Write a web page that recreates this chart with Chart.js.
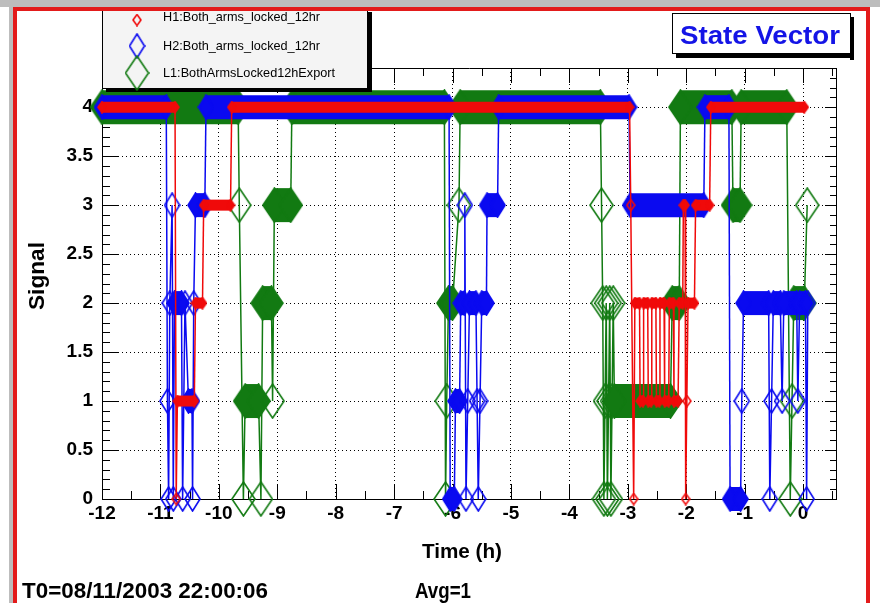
<!DOCTYPE html>
<html>
<head>
<meta charset="utf-8">
<script src="https://cdn.jsdelivr.net/npm/chart.js@4.4.0/dist/chart.umd.min.js"></script>
<style>
  html, body { margin: 0; padding: 0; background: #fff; }
  canvas { display: block; }
</style>
</head>
<body>
<canvas id="stateChart" width="880" height="603"></canvas>
<script>
// State vector samples: time in hours relative to T0, state 0..4
const h1Time  = [-12.0, -10.75, -10.73, -10.71, -10.42, -10.4, -10.28, -10.26, -9.8, -9.78,
                 -2.97, -2.95, -2.9, -2.88, -2.8, -2.79, -2.74, -2.73, -2.66, -2.65,
                 -2.6, -2.59, -2.52, -2.51, -2.46, -2.45, -2.38, -2.37, -2.3, -2.29,
                 -2.22, -2.21, -2.14, -2.12, -2.06, -2.05, -2.02, -2.01, -1.99, -1.97,
                 -1.86, -1.84, -1.6, -1.58, 0.02];
const h1State = [4, 4, 0, 1, 1, 2, 2, 3, 3, 4,
                 4, 3, 0, 2, 2, 1, 1, 2, 2, 1,
                 1, 2, 2, 1, 1, 2, 2, 1, 1, 2,
                 2, 1, 1, 2, 2, 3, 3, 0, 1, 2,
                 2, 3, 3, 4, 4];

const h2Time  = [-12.0, -10.9, -10.88, -10.86, -10.84, -10.8, -10.78, -10.76, -10.64, -10.62,
                 -10.58, -10.52, -10.46, -10.45, -10.43, -10.4, -10.24, -10.22,
                 -6.06, -6.04, -5.97, -5.95, -5.88, -5.86, -5.8, -5.79, -5.77, -5.74,
                 -5.71, -5.6, -5.58, -5.56, -5.53, -5.5, -5.42, -5.41, -5.23, -5.21,
                 -2.98, -2.96, -1.7, -1.68, -1.27, -1.25, -1.07, -1.05, -1.02, -0.59,
                 -0.57, -0.54, -0.51, -0.39, -0.36, -0.33, -0.11, -0.09, -0.06, 0.04,
                 0.06, 0.08];
const h2State = [4, 4, 1, 0, 2, 3, 0, 2, 2, 0,
                 2, 1, 1, 0, 2, 3, 3, 4,
                 4, 0, 0, 1, 1, 2, 2, 3, 0, 1,
                 2, 2, 1, 0, 1, 2, 2, 3, 3, 4,
                 4, 3, 3, 4, 4, 0, 0, 1, 2, 2,
                 0, 1, 2, 2, 1, 2, 2, 1, 2, 2,
                 0, 2];

const l1Time  = [-12.0, -9.67, -9.65, -9.58, -9.55, -9.32, -9.28, -9.25, -9.1, -9.08,
                 -9.05, -8.77, -8.75, -6.14, -6.12, -6.1, -6.07, -6.0, -5.89, -5.87,
                 -3.47, -3.45, -3.43, -3.41, -3.39, -3.37, -3.35, -3.33, -3.31, -3.29,
                 -3.27, -3.25, -3.23, -2.27, -2.24, -2.12, -2.1, -1.22, -1.2, -1.08,
                 -1.06, -0.28, -0.22, -0.19, -0.16, 0.02, 0.07];
const l1State = [4, 4, 3, 0, 1, 1, 0, 2, 2, 1,
                 3, 3, 4, 4, 0, 1, 2, 2, 3, 4,
                 4, 3, 2, 0, 1, 2, 0, 1, 2, 0,
                 1, 2, 1, 1, 2, 2, 4, 4, 3, 3,
                 4, 4, 0, 1, 2, 2, 3];

const seriesNames = ["H1:Both_arms_locked_12hr", "H2:Both_arms_locked_12hr", "L1:BothArmsLocked12hExport"];
const seriesColors = ["#f00a0a", "#0a0af0", "#127a12"];

const FONT = '"Liberation Sans", Arial, sans-serif';

// diamond marker drawn once to an offscreen canvas
function diamond(color, w, h, filled) {
    const c = document.createElement("canvas");
    c.width = w + 2;
    c.height = h + 2;
    const g = c.getContext("2d");
    g.beginPath();
    g.moveTo(c.width / 2, 1);
    g.lineTo(c.width - 1, c.height / 2);
    g.lineTo(c.width / 2, c.height - 1);
    g.lineTo(1, c.height / 2);
    g.closePath();
    if (filled) {
        g.fillStyle = color;
        g.fill();
    }
    g.strokeStyle = color;
    g.lineWidth = 1.6;
    g.stroke();
    return c;
}

const markerSize = [[8, 11], [15, 24], [23, 34]];
const hollow = seriesColors.map((c, i) => diamond(c, markerSize[i][0], markerSize[i][1], false));
const solid = seriesColors.map((c, i) => diamond(c, markerSize[i][0], markerSize[i][1], true));

function makeSeries(idx, times, states) {
    const held = (i) =>
        (i > 0 && states[i - 1] === states[i]) || (i < states.length - 1 && states[i + 1] === states[i]);
    return {
        label: seriesNames[idx],
        data: times.map((t, i) => ({ x: t, y: states[i] })),
        borderColor: seriesColors[idx],
        backgroundColor: seriesColors[idx],
        borderWidth: 1.5,
        borderCapStyle: "butt",
        tension: 0,
        clip: false,
        pointRadius: 4,
        pointStyle: (c) => (held(c.dataIndex) ? solid[idx] : hollow[idx]),
        segment: {
            borderWidth: (c) => (c.p0.parsed.y === c.p1.parsed.y ? markerSize[idx][1] : 1.5),
        },
    };
}

function fitText(ctx, text, x, y, font, w, align) {
    ctx.save();
    ctx.font = font;
    const k = w / ctx.measureText(text).width;
    ctx.translate(x, y);
    ctx.scale(k, 1);
    ctx.textAlign = align;
    ctx.textBaseline = "middle";
    ctx.fillText(text, 0, 0);
    ctx.restore();
}

const background = {
    id: "background",
    beforeDraw(chart) {
        const ctx = chart.ctx;
        ctx.save();
        ctx.fillStyle = "#fff";
        ctx.fillRect(0, 0, chart.width, chart.height);
        ctx.restore();
    },
};

// ROOT style frame: ticks point inward on all four sides
const frameTicks = {
    id: "frameTicks",
    beforeDatasetsDraw(chart) {
        const { ctx, chartArea: a, scales: { x, y } } = chart;
        ctx.save();
        ctx.strokeStyle = "#000";
        ctx.lineWidth = 1;
        ctx.beginPath();
        ctx.rect(a.left + 0.5, a.top + 0.5, a.right - a.left - 1, a.bottom - a.top);
        for (let i = 0; i <= 44; i++) {
            const py = Math.round(y.getPixelForValue(i / 10)) + 0.5;
            const major = i % 5 === 0;
            ctx.moveTo(a.left, py);
            ctx.lineTo(a.left + (major ? 16 : 8), py);
            ctx.moveTo(a.right, py);
            ctx.lineTo(a.right - (major ? 12 : 7), py);
        }
        for (let i = -24; i <= 1; i++) {
            const px = Math.round(x.getPixelForValue(i / 2)) + 0.5;
            const major = i % 2 === 0;
            ctx.moveTo(px, a.bottom);
            ctx.lineTo(px, a.bottom - (major ? 15 : 8));
            ctx.moveTo(px, a.top);
            ctx.lineTo(px, a.top + (major ? 15 : 8));
        }
        ctx.stroke();
        ctx.restore();
    },
};

const decorations = {
    id: "decorations",
    afterDraw(chart) {
        const ctx = chart.ctx;
        ctx.save();

        // legend box
        ctx.fillStyle = "#000";
        ctx.fillRect(367, 12, 5, 80);
        ctx.fillRect(106, 88, 266, 4);
        ctx.fillStyle = "#f4f4f4";
        ctx.fillRect(102, 4, 265, 84);
        ctx.strokeStyle = "#000";
        ctx.lineWidth = 1;
        ctx.strokeRect(102.5, 4.5, 265, 84);
        const rowY = [17, 46, 73];
        const rowW = [157, 157, 172];
        ctx.fillStyle = "#000";
        seriesNames.forEach((name, i) => {
            const img = hollow[i];
            ctx.drawImage(img, 137 - img.width / 2, rowY[i] + (i === 0 ? 3 : 0) - img.height / 2);
            fitText(ctx, name, 163, rowY[i], `13px ${FONT}`, rowW[i], "left");
        });

        // title box
        ctx.fillStyle = "#000";
        ctx.fillRect(850, 17, 4, 43);
        ctx.fillRect(676, 53, 178, 5);
        ctx.fillStyle = "#fff";
        ctx.fillRect(672, 13, 178, 40);
        ctx.strokeRect(672.5, 13.5, 178, 40);
        ctx.fillStyle = "#1414e6";
        fitText(ctx, "State Vector", 760, 37, `bold 25px ${FONT}`, 160, "center");

        // axis titles and footer
        ctx.fillStyle = "#000";
        ctx.save();
        ctx.translate(38, 276);
        ctx.rotate(-Math.PI / 2);
        fitText(ctx, "Signal", 0, 0, `bold 22px ${FONT}`, 68, "center");
        ctx.restore();
        fitText(ctx, "Time (h)", 462, 552, `bold 21px ${FONT}`, 80, "center");
        fitText(ctx, "T0=08/11/2003 22:00:06", 22, 592, `bold 22px ${FONT}`, 246, "left");
        fitText(ctx, "Avg=1", 415, 592, `bold 22px ${FONT}`, 56, "left");

        // window border
        ctx.fillStyle = "#bdbdbd";
        ctx.fillRect(0, 0, 880, 7);
        ctx.fillRect(9, 0, 4, 603);
        ctx.fillStyle = "#e31b1b";
        ctx.fillRect(13, 7, 857, 4);
        ctx.fillRect(13, 7, 4, 596);
        ctx.fillRect(866, 7, 4, 596);
        ctx.restore();
    },
};

const tickFont = { family: FONT, size: 19, weight: "bold" };

new Chart(document.getElementById("stateChart"), {
    type: "line",
    data: {
        datasets: [
            makeSeries(0, h1Time, h1State),
            makeSeries(1, h2Time, h2State),
            makeSeries(2, l1Time, l1State),
        ],
    },
    options: {
        responsive: false,
        devicePixelRatio: 1,
        animation: false,
        events: [],
        layout: { padding: { left: 0, right: 43, top: 68, bottom: 0 } },
        plugins: { legend: { display: false }, tooltip: { enabled: false } },
        scales: {
            x: {
                type: "linear",
                min: -12,
                max: 0.58,
                afterFit: (s) => { s.height = 104; },
                ticks: {
                    stepSize: 1,
                    includeBounds: false,
                    autoSkip: false,
                    maxRotation: 0,
                    padding: 3,
                    color: "#000",
                    font: tickFont,
                },
                grid: { color: "#000", lineWidth: 1, drawTicks: false },
                border: { display: false, dash: [1, 3] },
            },
            y: {
                min: 0,
                max: 4.4,
                afterFit: (s) => { s.width = 102; },
                ticks: {
                    stepSize: 0.5,
                    includeBounds: false,
                    padding: 9,
                    color: "#000",
                    font: tickFont,
                    callback: (v) => String(Math.round(v * 10) / 10),
                },
                grid: { color: "#000", lineWidth: 1, drawTicks: false },
                border: { display: false, dash: [1, 3] },
            },
        },
    },
    plugins: [background, frameTicks, decorations],
});
</script>
</body>
</html>
